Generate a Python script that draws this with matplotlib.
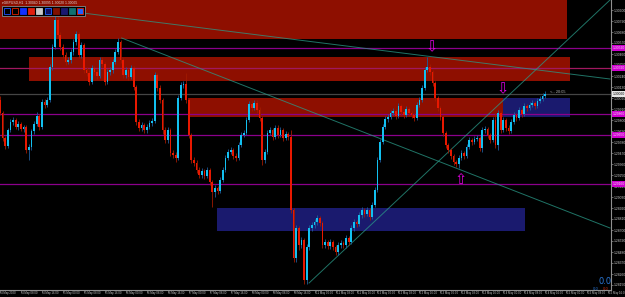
import numpy as np
import matplotlib
matplotlib.use("Agg")
import matplotlib.pyplot as plt
from matplotlib.patches import Rectangle
from matplotlib.transforms import ScaledTranslation, blended_transform_factory

# ---------------- data ----------------
TITLE = "GBPUSD,H1  1.30040 1.30095 1.30020 1.30065"

OPEN = [
    1.3000, 1.2987, 1.2962, 1.2954, 1.2970, 1.2978, 1.2980, 1.2973, 1.2976, 1.2971,
    1.2973, 1.2950, 1.2953, 1.2969, 1.2976, 1.2984, 1.2973, 1.2998, 1.2995, 1.3000,
    1.3033, 1.3053, 1.3080, 1.3065, 1.3053, 1.3045, 1.3038, 1.3040, 1.3048, 1.3058,
    1.3066, 1.3045, 1.3055, 1.3030, 1.3027, 1.3018, 1.3032, 1.3028, 1.3024, 1.3040,
    1.3036, 1.3018, 1.3028, 1.3030, 1.3038, 1.3048, 1.3058, 1.3040, 1.3025, 1.3030,
    1.3023, 1.3032, 1.3013, 1.2978, 1.2972, 1.2975, 1.2970, 1.2973, 1.2977, 1.2979,
    1.3025, 1.3012, 1.3000, 1.2970, 1.2960, 1.2970, 1.2947, 1.2945, 1.2942, 1.3002,
    1.3015, 1.3016, 1.3000, 1.2965, 1.2940, 1.2937, 1.2930, 1.2925, 1.2929, 1.2924,
    1.2930, 1.2918, 1.2908, 1.2912, 1.2909, 1.2920, 1.2930, 1.2942, 1.2948, 1.2950,
    1.2944, 1.2942, 1.2955, 1.2965, 1.2967, 1.2980, 1.2996, 1.2992, 1.2997, 1.2990,
    1.2982, 1.2940, 1.2948, 1.2967, 1.2970, 1.2963, 1.2972, 1.2965, 1.2970, 1.2962,
    1.2966, 1.2963, 1.2890, 1.2842, 1.2872, 1.2855, 1.2860, 1.2820, 1.2853, 1.2872,
    1.2875, 1.2878, 1.2882, 1.2877, 1.2855, 1.2858, 1.2854, 1.2858, 1.2853, 1.2848,
    1.2855, 1.2857, 1.2855, 1.2862, 1.2858, 1.2872, 1.2878, 1.2876, 1.2885, 1.2890,
    1.2886, 1.2890, 1.2883, 1.2895, 1.2910, 1.2940, 1.2958, 1.2973, 1.2981, 1.2983,
    1.2987, 1.2989, 1.2984, 1.2994, 1.2988, 1.2985, 1.2991, 1.2987, 1.2985, 1.2982,
    1.2995, 1.3000, 1.3012, 1.3030, 1.3033, 1.3028, 1.3017, 1.3002, 1.2992, 1.2983,
    1.2967, 1.2955, 1.2950, 1.2944, 1.2938, 1.2936, 1.2942, 1.2947, 1.2944, 1.2953,
    1.2960, 1.2958, 1.2961, 1.2962, 1.2952, 1.2970, 1.2971, 1.2965, 1.2960, 1.2980,
    1.2955, 1.2987, 1.2970, 1.2980, 1.2972, 1.2969, 1.2978, 1.2985, 1.2982, 1.2990,
    1.2986, 1.2994, 1.2992, 1.2995, 1.2997, 1.2994, 1.2999, 1.3001, 1.3004,
]
HIGH = [
    1.3004, 1.2989, 1.2964, 1.2972, 1.2981, 1.2983, 1.2982, 1.2979, 1.2978, 1.2975,
    1.2975, 1.2956, 1.2971, 1.2979, 1.2988, 1.2986, 1.3001, 1.3001, 1.3003, 1.3036,
    1.3056, 1.3092, 1.3088, 1.3068, 1.3056, 1.3048, 1.3043, 1.3051, 1.3061, 1.3069,
    1.3068, 1.3058, 1.3057, 1.3033, 1.3030, 1.3035, 1.3034, 1.3031, 1.3043, 1.3043,
    1.3038, 1.3031, 1.3033, 1.3041, 1.3051, 1.3062, 1.3060, 1.3042, 1.3033, 1.3032,
    1.3035, 1.3034, 1.3015, 1.2981, 1.2978, 1.2977, 1.2976, 1.2980, 1.2982, 1.3028,
    1.3027, 1.3015, 1.3002, 1.2973, 1.2973, 1.2972, 1.2950, 1.2948, 1.3005, 1.3018,
    1.3019, 1.3027, 1.3002, 1.2967, 1.2943, 1.2940, 1.2933, 1.2932, 1.2931, 1.2933,
    1.2932, 1.2920, 1.2915, 1.2914, 1.2923, 1.2933, 1.2945, 1.2951, 1.2953, 1.2952,
    1.2947, 1.2958, 1.2968, 1.2970, 1.2983, 1.2999, 1.2999, 1.3000, 1.3000, 1.2993,
    1.2984, 1.2951, 1.2970, 1.2973, 1.2972, 1.2975, 1.2975, 1.2973, 1.2972, 1.2969,
    1.2968, 1.2970, 1.2892, 1.2875, 1.2874, 1.2863, 1.2862, 1.2856, 1.2875, 1.2878,
    1.2881, 1.2885, 1.2884, 1.2879, 1.2861, 1.2860, 1.2861, 1.2860, 1.2855, 1.2858,
    1.2860, 1.2859, 1.2865, 1.2864, 1.2875, 1.2881, 1.2880, 1.2888, 1.2893, 1.2892,
    1.2893, 1.2892, 1.2898, 1.2913, 1.2943, 1.2961, 1.2976, 1.2984, 1.2986, 1.2990,
    1.2992, 1.2991, 1.2997, 1.2996, 1.2990, 1.2994, 1.2993, 1.2989, 1.2987, 1.2998,
    1.3003, 1.3015, 1.3033, 1.3043, 1.3036, 1.3030, 1.3019, 1.3004, 1.2994, 1.2985,
    1.2969, 1.2957, 1.2952, 1.2946, 1.2940, 1.2945, 1.2950, 1.2949, 1.2956, 1.2963,
    1.2962, 1.2964, 1.2965, 1.2964, 1.2973, 1.2974, 1.2973, 1.2967, 1.2983, 1.2987,
    1.2990, 1.2989, 1.2983, 1.2982, 1.2975, 1.2981, 1.2988, 1.2987, 1.2993, 1.2992,
    1.2997, 1.2996, 1.2998, 1.3000, 1.2999, 1.3002, 1.3004, 1.3007, 1.3009,
]
LOW = [
    1.2985, 1.2959, 1.2951, 1.2952, 1.2968, 1.2975, 1.2971, 1.2970, 1.2969, 1.2968,
    1.2947, 1.2940, 1.2950, 1.2966, 1.2974, 1.2970, 1.2971, 1.2992, 1.2993, 1.2998,
    1.3030, 1.3051, 1.3062, 1.3050, 1.3042, 1.3035, 1.3036, 1.3037, 1.3045, 1.3055,
    1.3042, 1.3042, 1.3027, 1.3024, 1.3015, 1.3016, 1.3025, 1.3021, 1.3022, 1.3033,
    1.3015, 1.3016, 1.3025, 1.3027, 1.3036, 1.3046, 1.3037, 1.3022, 1.3022, 1.3020,
    1.3021, 1.3010, 1.2975, 1.2969, 1.2969, 1.2967, 1.2967, 1.2971, 1.2974, 1.2977,
    1.3009, 1.2997, 1.2966, 1.2957, 1.2957, 1.2944, 1.2942, 1.2938, 1.2940, 1.3000,
    1.3012, 1.2997, 1.2962, 1.2937, 1.2934, 1.2927, 1.2922, 1.2922, 1.2921, 1.2922,
    1.2915, 1.2893, 1.2903, 1.2906, 1.2907, 1.2918, 1.2928, 1.2940, 1.2946, 1.2941,
    1.2939, 1.2940, 1.2953, 1.2963, 1.2965, 1.2978, 1.2989, 1.2990, 1.2987, 1.2979,
    1.2935, 1.2937, 1.2946, 1.2965, 1.2960, 1.2961, 1.2962, 1.2963, 1.2959, 1.2960,
    1.2960, 1.2887, 1.2838, 1.2838, 1.2850, 1.2852, 1.2816, 1.2816, 1.2850, 1.2869,
    1.2872, 1.2875, 1.2874, 1.2852, 1.2852, 1.2851, 1.2851, 1.2850, 1.2845, 1.2845,
    1.2852, 1.2852, 1.2852, 1.2855, 1.2856, 1.2869, 1.2873, 1.2874, 1.2882, 1.2883,
    1.2884, 1.2880, 1.2881, 1.2893, 1.2908, 1.2938, 1.2956, 1.2971, 1.2978, 1.2981,
    1.2985, 1.2981, 1.2982, 1.2985, 1.2982, 1.2983, 1.2984, 1.2982, 1.2979, 1.2980,
    1.2993, 1.2998, 1.3010, 1.3028, 1.3025, 1.3014, 1.2999, 1.2989, 1.2980, 1.2964,
    1.2952, 1.2947, 1.2941, 1.2935, 1.2933, 1.2932, 1.2940, 1.2941, 1.2942, 1.2951,
    1.2955, 1.2956, 1.2959, 1.2949, 1.2948, 1.2967, 1.2962, 1.2957, 1.2958, 1.2952,
    1.2950, 1.2967, 1.2968, 1.2969, 1.2966, 1.2967, 1.2976, 1.2979, 1.2980, 1.2983,
    1.2984, 1.2989, 1.2990, 1.2993, 1.2991, 1.2992, 1.2997, 1.2999, 1.3002,
]
CLOSE = [
    1.2987, 1.2962, 1.2954, 1.2970, 1.2978, 1.2980, 1.2973, 1.2976, 1.2971, 1.2973,
    1.2950, 1.2953, 1.2969, 1.2976, 1.2984, 1.2973, 1.2998, 1.2995, 1.3000, 1.3033,
    1.3053, 1.3080, 1.3065, 1.3053, 1.3045, 1.3038, 1.3040, 1.3048, 1.3058, 1.3066,
    1.3045, 1.3055, 1.3030, 1.3027, 1.3018, 1.3032, 1.3028, 1.3024, 1.3040, 1.3036,
    1.3018, 1.3028, 1.3030, 1.3038, 1.3048, 1.3058, 1.3040, 1.3025, 1.3030, 1.3023,
    1.3032, 1.3013, 1.2978, 1.2972, 1.2975, 1.2970, 1.2973, 1.2977, 1.2979, 1.3025,
    1.3012, 1.3000, 1.2970, 1.2960, 1.2970, 1.2947, 1.2945, 1.2942, 1.3002, 1.3015,
    1.3016, 1.3000, 1.2965, 1.2940, 1.2937, 1.2930, 1.2925, 1.2929, 1.2924, 1.2930,
    1.2918, 1.2908, 1.2912, 1.2909, 1.2920, 1.2930, 1.2942, 1.2948, 1.2950, 1.2944,
    1.2942, 1.2955, 1.2965, 1.2967, 1.2980, 1.2996, 1.2992, 1.2997, 1.2990, 1.2982,
    1.2940, 1.2948, 1.2967, 1.2970, 1.2963, 1.2972, 1.2965, 1.2970, 1.2962, 1.2966,
    1.2963, 1.2890, 1.2842, 1.2872, 1.2855, 1.2860, 1.2820, 1.2853, 1.2872, 1.2875,
    1.2878, 1.2882, 1.2877, 1.2855, 1.2858, 1.2854, 1.2858, 1.2853, 1.2848, 1.2855,
    1.2857, 1.2855, 1.2862, 1.2858, 1.2872, 1.2878, 1.2876, 1.2885, 1.2890, 1.2886,
    1.2890, 1.2883, 1.2895, 1.2910, 1.2940, 1.2958, 1.2973, 1.2981, 1.2983, 1.2987,
    1.2989, 1.2984, 1.2994, 1.2988, 1.2985, 1.2991, 1.2987, 1.2985, 1.2982, 1.2995,
    1.3000, 1.3012, 1.3030, 1.3033, 1.3028, 1.3017, 1.3002, 1.2992, 1.2983, 1.2967,
    1.2955, 1.2950, 1.2944, 1.2938, 1.2936, 1.2942, 1.2947, 1.2944, 1.2953, 1.2960,
    1.2958, 1.2961, 1.2962, 1.2952, 1.2970, 1.2971, 1.2965, 1.2960, 1.2980, 1.2955,
    1.2987, 1.2970, 1.2980, 1.2972, 1.2969, 1.2978, 1.2985, 1.2982, 1.2990, 1.2986,
    1.2994, 1.2992, 1.2995, 1.2997, 1.2994, 1.2999, 1.3001, 1.3004, 1.3006,
]

X_TICK_BARS = [0, 8, 16, 24, 32, 40, 48, 56, 64, 72, 80, 88, 96, 104, 112,
               120, 128, 136, 144, 152, 160, 168, 176, 184, 192, 200, 208, 216, 224, 232]
X_TICK_LABELS = ["4 May 2020", "4 May 08:00", "4 May 16:00", "5 May 00:00", "5 May 08:00",
                 "5 May 16:00", "6 May 00:00", "6 May 08:00", "6 May 16:00", "7 May 00:00",
                 "7 May 08:00", "7 May 16:00", "8 May 00:00", "8 May 08:00", "8 May 16:00",
                 "11 May 00:00", "11 May 08:00", "11 May 16:00", "12 May 00:00", "12 May 08:00",
                 "12 May 16:00", "13 May 00:00", "13 May 08:00", "13 May 16:00", "14 May 00:00",
                 "14 May 08:00", "14 May 16:00", "15 May 00:00", "15 May 08:00", "15 May 16:00"]
Y_TICKS = [1.3090, 1.3079, 1.3068, 1.3057, 1.3046, 1.3035, 1.3024, 1.3013, 1.3002,
           1.2991, 1.2980, 1.2969, 1.2958, 1.2947, 1.2936, 1.2925, 1.2914, 1.2903,
           1.2892, 1.2881, 1.2870, 1.2859, 1.2848, 1.2837, 1.2826, 1.2815]

LEVELS = [1.3052, 1.3032, 1.2986, 1.2965, 1.2916]
# (bar_from, bar_to, price_low, price_high)
RED_ZONES = [(-6.0, 216.3, 1.3061, 1.3120), (11.0, 217.5, 1.3019, 1.3043), (71.9, 192.0, 1.2983, 1.3002)]
BLUE_ZONES = [(192.0, 217.5, 1.2983, 1.3002), (82.9, 200.4, 1.2869, 1.2892)]
TRENDLINES = [((22.4, 1.3090), (232.7, 1.3021)),
              ((46.4, 1.3062), (232.7, 1.2872)),
              ((117.9, 1.2817), (232.7, 1.3100))]
ARROWS = [(164.6, 1.3053, "\u21e9"), (191.6, 1.3011, "\u21e9"), (175.7, 1.2921, "\u21e7")]
TIMER_TEXT = "<-- 20:05"
TIMER_POS = (209.9, 1.3008)

# ---------------- figure ----------------
W, H = 625, 297
fig = plt.figure(figsize=(W / 100, H / 100), dpi=100)
fig.patch.set_facecolor("black")
ax = fig.add_axes([0, 7 / H, 611 / W, 290 / H])
ax.set_facecolor("black")
ax.set_xlim(0.76, 233.08)
ax.set_ylim(1.2810, 1.3100)

FONT = ["Liberation Sans", "DejaVu Sans"]

for x0, x1, p0, p1 in RED_ZONES:
    ax.add_patch(Rectangle((x0, p0), x1 - x0, p1 - p0, facecolor="#8e0f00", edgecolor="none", zorder=0.5))
for x0, x1, p0, p1 in BLUE_ZONES:
    ax.add_patch(Rectangle((x0, p0), x1 - x0, p1 - p0, facecolor="#1a1a6e", edgecolor="none", zorder=0.5))

level_colors = ["#8b008b", "#a01860", "#8b008b", "#8b008b", "#8b008b"]
for lv, col in zip(LEVELS, level_colors):
    ax.axhline(lv, color=col, lw=0.9, zorder=1)
ax.axhline(CLOSE[-1], color="#454545", lw=0.9, zorder=1)

for (xa, ya), (xb, yb) in TRENDLINES:
    ax.plot([xa, xb], [ya, yb], color="#2a9a88", alpha=0.75, lw=0.7, zorder=1.5)

o = np.array(OPEN); h = np.array(HIGH); l = np.array(LOW); c = np.array(CLOSE)
xs = np.arange(len(c))
bull = c >= o
wick_cols = np.where(bull, "#1d5d9c", "#a01a00")
body_cols = np.where(bull, "#12c0f0", "#e81800")
ax.vlines(xs, l, h, colors=wick_cols, lw=0.6, zorder=2)
ax.bar(xs, np.abs(c - o), bottom=np.minimum(o, c), width=0.66, color=body_cols, linewidth=0, zorder=3)

for bx, by, ch in ARROWS:
    ax.text(bx, by, ch, color="#e000e0", fontsize=10.5, ha="center", va="center",
            family="DejaVu Sans", zorder=5)
ax.text(TIMER_POS[0], TIMER_POS[1], TIMER_TEXT, color="#b4b4b4", fontsize=2.8,
        ha="left", va="center", family=FONT, zorder=5)

# axes styling
for s in ["top", "left"]:
    ax.spines[s].set_visible(False)
for s in ["right", "bottom"]:
    ax.spines[s].set_color("#909090")
    ax.spines[s].set_linewidth(0.8)

ax.yaxis.tick_right()
ax.set_yticks(Y_TICKS, labels=[f"{v:.5f}" for v in Y_TICKS])
ax.tick_params(axis="y", length=1.5, width=0.5, color="#909090", labelcolor="#c8c8c8",
               labelsize=2.4, pad=0.6)
for lb in ax.get_yticklabels():
    lb.set_family(FONT)

ax.set_xticks(X_TICK_BARS, labels=X_TICK_LABELS)
ax.tick_params(axis="x", length=2.5, width=0.5, color="#909090", labelcolor="#c8c8c8",
               labelsize=2.0, pad=-1.6)
shift = ScaledTranslation(1.0 / 100, 0, fig.dpi_scale_trans)
for lb in ax.get_xticklabels():
    lb.set_family(FONT)
    lb.set_ha("left")
    lb.set_transform(lb.get_transform() + shift)

# price tags on the right scale
tr = blended_transform_factory(ax.transAxes, ax.transData)
for lv in LEVELS:
    ax.text(1.003, lv, f"{lv:.5f}", transform=tr, fontsize=2.4, family=FONT, color="#f4d8f4",
            ha="left", va="center", clip_on=False, zorder=10,
            bbox=dict(boxstyle="square,pad=0.3", facecolor="#d000d0", edgecolor="none"))
ax.text(1.003, CLOSE[-1], f"{CLOSE[-1]:.5f}", transform=tr, fontsize=2.4, family=FONT,
        color="black", ha="left", va="center", clip_on=False, zorder=10,
        bbox=dict(boxstyle="square,pad=0.3", facecolor="#e8e8e8", edgecolor="none"))

# title and toolbar
fig.text(2 / W, 1 - 3.0 / H, "\u25be" + TITLE, fontsize=2.4, color="#d8d8d8",
         family=FONT, ha="left", va="center")


def px_rect(x, y, w, hgt, fc, ec="none", lw=0.0):
    fig.add_artist(Rectangle((x / W, 1 - (y + hgt) / H), w / W, hgt / H, transform=fig.transFigure,
                             facecolor=fc, edgecolor=ec, linewidth=lw, zorder=20))


px_rect(2, 6, 83, 10, "#000000", ec="#7a7a7a", lw=0.7)
swatches = [("#000000", "#2050ff"), ("#000000", "#e02000"), ("#1030ff", "#1030ff"),
            ("#e02010", "#e02010"), ("#c8c8c8", "#c8c8c8"), ("#101060", "#2060ff"),
            ("#801000", "#801000"), ("#181870", "#181870"), ("#107070", "#107070"),
            ("#2060ff", "#e02000")]
for k, (fc, ec) in enumerate(swatches):
    px_rect(4 + 8.1 * k, 8, 6, 6, fc, ec=ec, lw=0.6)

fig.text(605 / W, 1 - 281 / H, "0.0", fontsize=6, color="#2a78d8", ha="center", va="center")
fig.text(596 / W, 1 - 288.5 / H, "0.0", fontsize=2.6, color="#2a78d8", ha="center", va="center")
fig.text(606 / W, 1 - 288.5 / H, "0.0", fontsize=2.6, color="#d03010", ha="center", va="center")

fig.savefig("out.png", dpi=100, facecolor="black")
